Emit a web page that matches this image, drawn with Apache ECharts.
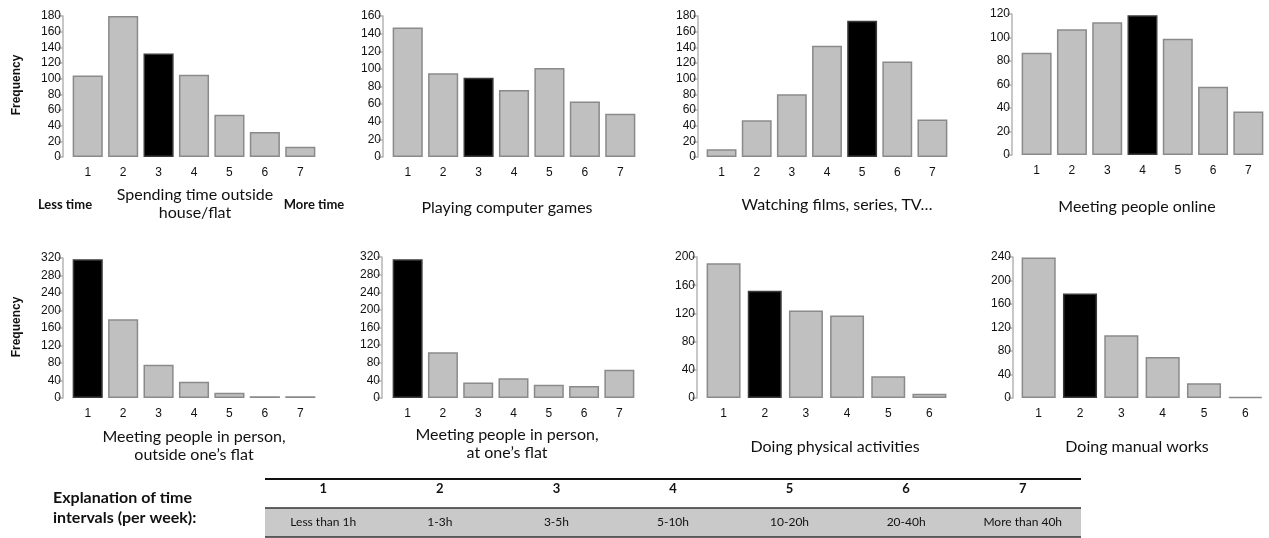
<!DOCTYPE html>
<html>
<head>
<meta charset="utf-8">
<script src="https://cdn.jsdelivr.net/npm/echarts@6/dist/echarts.min.js"></script>
<style>
html,body{margin:0;padding:0;background:#fff;}
#chart{width:1269px;height:538px;}
</style>
</head>
<body>
<div id="chart"></div>
<script>
// ---- data ----
const cats7 = ['1','2','3','4','5','6','7'];
const cats6 = ['1','2','3','4','5','6'];
const spendingOutside = [104, 180, 132, 105, 54, 32, 13];
const computerGames   = [147, 95, 90, 76, 101, 63, 49];
const watchingFilms   = [10, 47, 80, 142, 174, 122, 48];
const meetingOnline   = [87, 107, 113, 119, 99, 58, 37];
const personOutside   = [317, 180, 76, 37, 12, 4, 4];
const personAtFlat    = [315, 104, 35, 45, 30, 27, 64];
const physicalAct     = [191, 152, 124, 117, 31, 6];
const manualWorks     = [239, 178, 107, 70, 25, 2];
const highlightIdx    = [2, 2, 4, 3, 0, 0, 1, 1];
const yMax            = [180, 160, 180, 120, 320, 320, 200, 240];
const yInterval       = [20, 20, 20, 20, 40, 40, 40, 40];
const titles = [
  ['Spending time outside', 'house/flat'],
  ['Playing computer games'],
  ['Watching films, series, TV…'],
  ['Meeting people online'],
  ['Meeting people in person,', 'outside one’s flat'],
  ['Meeting people in person,', 'at one’s flat'],
  ['Doing physical activities'],
  ['Doing manual works']
];
const intervalNums   = ['1','2','3','4','5','6','7'];
const intervalLabels = ['Less than 1h','1-3h','3-5h','5-10h','10-20h','20-40h','More than 40h'];

const seriesData = [spendingOutside, computerGames, watchingFilms, meetingOnline,
                    personOutside, personAtFlat, physicalAct, manualWorks];
const catsList = [cats7, cats7, cats7, cats7, cats7, cats7, cats6, cats6];

// ---- layout ----
const grids = [
  {left:70,  top:16,  width:248, height:141},
  {left:390, top:16,  width:248, height:141},
  {left:704, top:16,  width:246, height:141},
  {left:1019,top:14,  width:247, height:141},
  {left:70,  top:258, width:248, height:140},
  {left:390, top:257, width:247, height:141},
  {left:703, top:257, width:247, height:141},
  {left:1018,top:257, width:248, height:141}
];
const yOffsets = [7, 7, 6, 7, 7, 8, 6, 5];
const titlePos = [
  {x:195, y:[195, 213]},
  {x:507, y:[208]},
  {x:837, y:[205]},
  {x:1137,y:[207]},
  {x:194, y:[437, 455]},
  {x:507, y:[435, 453]},
  {x:835, y:[447]},
  {x:1137,y:[447]}
];

const numFont = 'Liberation Sans, Arial, sans-serif';
const txtFont = 'Lato, Open Sans, sans-serif';

const xAxes = [], yAxes = [], series = [];
grids.forEach((g, i) => {
  xAxes.push({
    type:'category', gridIndex:i, data:catsList[i],
    axisLine:{show:false}, axisTick:{show:false},
    axisLabel:{margin:10, fontFamily:numFont, fontSize:12, color:'#111'}
  });
  yAxes.push({
    type:'value', gridIndex:i, min:0, max:yMax[i], interval:yInterval[i],
    offset:yOffsets[i],
    splitLine:{show:false},
    axisLine:{show:true, lineStyle:{color:'#b5b5b5', width:1.5}},
    axisTick:{show:true, length:5, lineStyle:{color:'#b5b5b5', width:1.5}},
    axisLabel:{margin:2, fontFamily:numFont, fontSize:12, color:'#111'}
  });
  series.push({
    type:'bar', xAxisIndex:i, yAxisIndex:i,
    barWidth: catsList[i].length === 7 ? '85%' : '82.5%',
    itemStyle:{color:'#c0c0c0', borderColor:'#8a8a8a', borderWidth:1.5},
    data: seriesData[i].map((v, k) => k === highlightIdx[i]
      ? {value:v, itemStyle:{color:'#000', borderColor:'#3a3a3a', borderWidth:1.5}}
      : v),
    silent:true, animation:false
  });
});

function txt(x, y, text, opts) {
  opts = opts || {};
  return {
    type:'text', x:x, y:y, rotation: opts.rotation || 0, silent:true,
    style:{
      text:text, fill:opts.fill || '#111',
      fontFamily:opts.fontFamily || txtFont,
      fontSize:opts.fontSize || 16,
      fontWeight:opts.fontWeight || 'normal',
      align:opts.align || 'center', verticalAlign:'middle',
      textAlign:opts.align || 'center', textVerticalAlign:'middle'
    }
  };
}

const graphics = [];
titles.forEach((lines, i) => {
  lines.forEach((l, j) => graphics.push(txt(titlePos[i].x, titlePos[i].y[j], l, {fontSize:16})));
});
graphics.push(txt(65, 205, 'Less time', {fontSize:13, fontWeight:'bold'}));
graphics.push(txt(314, 205, 'More time', {fontSize:13, fontWeight:'bold'}));
graphics.push(txt(17, 85, 'Frequency', {fontSize:12, fontWeight:'bold', fontFamily:numFont, rotation:Math.PI/2}));
graphics.push(txt(17, 327, 'Frequency', {fontSize:12, fontWeight:'bold', fontFamily:numFont, rotation:Math.PI/2}));

// table
const tX0 = 265, tX1 = 1081;
const colW = (tX1 - tX0) / intervalNums.length;
graphics.push({type:'rect', silent:true, shape:{x:tX0, y:508, width:tX1 - tX0, height:29}, style:{fill:'#c9c9c9'}});
graphics.push({type:'line', silent:true, shape:{x1:tX0, y1:479, x2:tX1, y2:479}, style:{stroke:'#111', lineWidth:2}});
graphics.push({type:'line', silent:true, shape:{x1:tX0, y1:508, x2:tX1, y2:508}, style:{stroke:'#333', lineWidth:1.5}});
graphics.push({type:'line', silent:true, shape:{x1:tX0, y1:537, x2:tX1, y2:537}, style:{stroke:'#333', lineWidth:1.5}});
intervalNums.forEach((n, k) => {
  graphics.push(txt(tX0 + colW * (k + 0.5), 489, n, {fontSize:13, fontWeight:'bold'}));
  graphics.push(txt(tX0 + colW * (k + 0.5), 522, intervalLabels[k], {fontSize:12}));
});
graphics.push(txt(53, 498, 'Explanation of time', {fontSize:16, fontWeight:'bold', align:'left'}));
graphics.push(txt(53, 518, 'intervals (per week):', {fontSize:16, fontWeight:'bold', align:'left'}));

const chart = echarts.init(document.getElementById('chart'), null, {renderer:'canvas'});
chart.setOption({
  animation:false,
  backgroundColor:'#fff',
  grid:grids,
  xAxis:xAxes,
  yAxis:yAxes,
  series:series,
  graphic:graphics
});
</script>
</body>
</html>
